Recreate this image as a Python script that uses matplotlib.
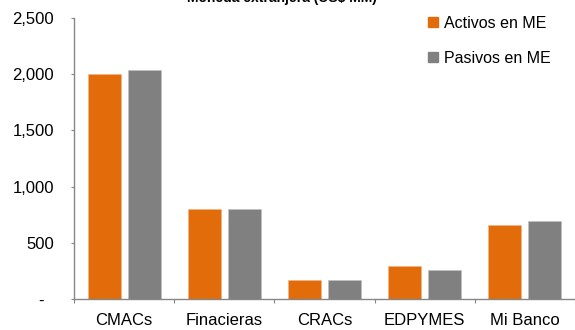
import numpy as np
import matplotlib.pyplot as plt
from matplotlib.patches import Patch

plt.rcParams['font.family'] = ['Liberation Sans', 'DejaVu Sans']

categorias = ['CMACs', 'Finacieras', 'CRACs', 'EDPYMES', 'Mi Banco']
activos_me = [2005, 805, 165, 290, 660]
pasivos_me = [2040, 805, 165, 255, 695]
yticks = [0, 500, 1000, 1500, 2000, 2500]
ytick_labels = ['-  ', '500', '1,000', '1,500', '2,000', '2,500']

c_act = '#E36C0A'
c_pas = '#808080'
c_axis = '#868686'

fig = plt.figure(figsize=(5.75, 3.3), dpi=100)
ax = fig.add_axes([74/575, 31/330, 1 - 74/575, 281/330])

x = np.arange(len(categorias))
w = 0.33
ax.bar(x - 0.2, activos_me, w, color=c_act, edgecolor='#F4B183', linewidth=0.4)
ax.bar(x + 0.2, pasivos_me, w, color=c_pas, edgecolor='#BFBFBF', linewidth=0.4)

ax.set_xlim(-0.5, -0.5 + 501/101.7)
ax.set_ylim(0, 2500)

ax.set_yticks(yticks)
ax.set_yticklabels(ytick_labels)
ax.set_xticks(x)
ax.set_xticklabels(categorias)
ax.set_xticks(np.arange(len(categorias) + 1) - 0.5, minor=True)

ax.tick_params(axis='y', length=2.5, width=0.8, color=c_axis, pad=12, labelsize=12)
ax.tick_params(axis='x', which='major', length=0, pad=10, labelsize=12)
ax.tick_params(axis='x', which='minor', length=3, width=0.8, color=c_axis)

for s in ['top', 'right']:
    ax.spines[s].set_visible(False)
for s in ['left', 'bottom']:
    ax.spines[s].set_color(c_axis)
    ax.spines[s].set_linewidth(1.0)

handles = [Patch(color=c_act, label='Activos en ME'),
           Patch(color=c_pas, label='Pasivos en ME')]
fig.legend(handles=handles, loc='upper left', bbox_to_anchor=(428/575, 1 - 16/330),
           frameon=False, fontsize=11.5, handlelength=0.6, handleheight=0.6,
           handletextpad=0.4, labelspacing=1.25, borderpad=0, borderaxespad=0)

# titulo cortado en la parte superior
fig.text(377/575, 1 - 2/330, 'Moneda extranjera (US$ MM)', ha='right', va='baseline',
         fontsize=10, fontweight='bold')

fig.savefig('out.png', dpi=100)
